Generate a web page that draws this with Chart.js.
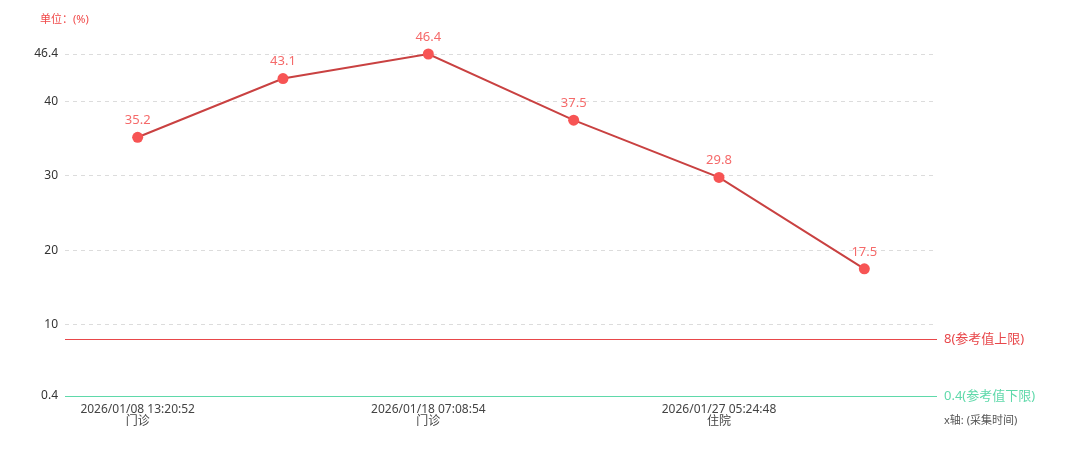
<!DOCTYPE html>
<html>
<head>
<meta charset="utf-8">
<script src="https://cdn.jsdelivr.net/npm/chart.js@4/dist/chart.umd.min.js"></script>
<style>
  html, body { margin: 0; padding: 0; background: #fff; }
  #wrap { width: 1080px; height: 470px; }
</style>
</head>
<body>
<div id="wrap"><canvas id="myChart" width="1080" height="470"></canvas></div>
<script>
// dados do grafico
const collectTimes = ['2026/01/08 13:20:52', '2026/01/13 09:42:16', '2026/01/18 07:08:54', '2026/01/22 15:36:10', '2026/01/27 05:24:48', '2026/01/31 10:12:33'];
const visitTypes = ['门诊', '门诊', '门诊', '住院', '住院', '住院'];
const values = [35.2, 43.1, 46.4, 37.5, 29.8, 17.5];
const yTicks = [0.4, 10, 20, 30, 40, 46.4];
const refUpper = 8;
const refLower = 0.4;

const FONT = '"Noto Sans", "Noto Sans CJK SC", sans-serif';

// linhas de referencia, rotulos e textos extras
const extrasPlugin = {
  id: 'extras',
  afterDraw(chart) {
    const ctx = chart.ctx;
    const area = chart.chartArea;
    const y = chart.scales.y;
    ctx.save();

    const refs = [
      { v: refUpper, color: '#e8474a', text: refUpper + '(参考值上限)' },
      { v: refLower, color: '#5fd9aa', text: refLower + '(参考值下限)' }
    ];
    refs.forEach(r => {
      const py = Math.round(y.getPixelForValue(r.v)) + 0.5;
      ctx.strokeStyle = r.color;
      ctx.lineWidth = 1;
      ctx.beginPath();
      ctx.moveTo(area.left, py);
      ctx.lineTo(area.right, py);
      ctx.stroke();
      ctx.fillStyle = r.color;
      ctx.font = '13px ' + FONT;
      ctx.textAlign = 'left';
      ctx.textBaseline = 'middle';
      ctx.fillText(r.text, area.right + 7, py);
    });

    // rotulos dos pontos
    const meta = chart.getDatasetMeta(0);
    ctx.fillStyle = '#f56a6a';
    ctx.font = '13px ' + FONT;
    ctx.textAlign = 'center';
    ctx.textBaseline = 'middle';
    meta.data.forEach((pt, i) => {
      ctx.fillText(String(values[i]), pt.x, pt.y - 17);
    });

    // unidade
    ctx.fillStyle = '#f04848';
    ctx.font = '11px ' + FONT;
    ctx.textAlign = 'left';
    ctx.fillText('单位：(%)', 40, 20);

    // nome do eixo x
    ctx.fillStyle = '#555';
    ctx.font = '11px ' + FONT;
    ctx.fillText('x轴: (采集时间)', area.right + 7, 421);

    ctx.restore();
  }
};

const ctx = document.getElementById('myChart').getContext('2d');
window.myChartInstance = new Chart(ctx, {
  type: 'line',
  data: {
    labels: collectTimes.map((t, i) => [t, visitTypes[i]]),
    datasets: [{
      label: '值',
      data: values,
      borderColor: '#c94141',
      borderWidth: 2,
      tension: 0,
      pointRadius: 5.5,
      pointHoverRadius: 5.5,
      pointBackgroundColor: '#f75454',
      pointBorderColor: '#f75454',
      pointBorderWidth: 0,
      clip: false
    }]
  },
  options: {
    responsive: false,
    animation: false,
    layout: { padding: { top: 54, right: 143, bottom: 0, left: 0 } },
    plugins: {
      legend: { display: false },
      tooltip: { enabled: false }
    },
    scales: {
      x: {
        offset: true,
        grid: { display: false },
        border: { display: false },
        ticks: {
          autoSkip: false,
          maxRotation: 0,
          padding: 0,
          color: '#444',
          font: { size: 12, family: FONT, lineHeight: 1.0 },
          callback: function (val, idx) {
            return idx % 2 === 0 ? this.getLabelForValue(val) : null;
          }
        },
        afterFit: s => { s.height = 74; }
      },
      y: {
        min: 0.4,
        max: 46.4,
        afterBuildTicks: s => { s.ticks = yTicks.map(v => ({ value: v })); },
        grid: {
          color: c => (c.tick && c.tick.value === refLower) ? 'rgba(0,0,0,0)' : '#dcdcdc',
          drawTicks: false
        },
        border: { display: false, dash: [4, 4] },
        ticks: {
          padding: 7,
          color: '#333',
          font: { size: 12, family: FONT },
          callback: v => String(v)
        },
        afterFit: s => { s.width = 65; }
      }
    }
  },
  plugins: [extrasPlugin]
});
</script>
</body>
</html>
